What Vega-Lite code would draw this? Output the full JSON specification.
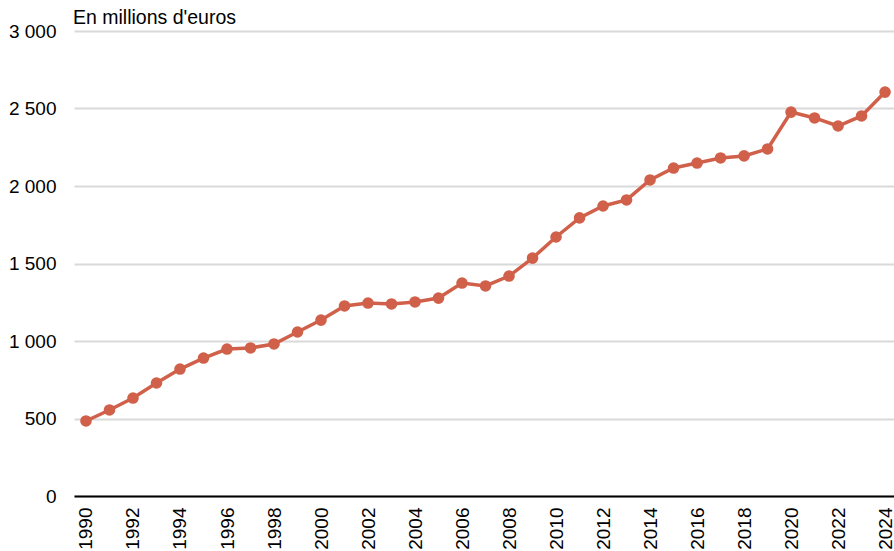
{
  "$schema": "https://vega.github.io/schema/vega-lite/v6.json",
  "width": 820,
  "height": 465,
  "autosize": {"type": "none"},
  "padding": {"left": 74, "top": 31, "right": 0, "bottom": 55},
  "background": "white",
  "title": {"text": "En millions d'euros", "anchor": "start", "frame": "group", "font": "Liberation Sans", "fontSize": 19.5, "fontWeight": "normal", "color": "#000000", "offset": 2, "dx": -1, "dy": 8},
  "config": {"view": {"stroke": null}, "font": "Liberation Sans"},
  "data": {"values": [
    {"year": 1990, "value": 484},
    {"year": 1991, "value": 555},
    {"year": 1992, "value": 632},
    {"year": 1993, "value": 729},
    {"year": 1994, "value": 819},
    {"year": 1995, "value": 890},
    {"year": 1996, "value": 948},
    {"year": 1997, "value": 955},
    {"year": 1998, "value": 981},
    {"year": 1999, "value": 1058},
    {"year": 2000, "value": 1135},
    {"year": 2001, "value": 1226},
    {"year": 2002, "value": 1245},
    {"year": 2003, "value": 1239},
    {"year": 2004, "value": 1252},
    {"year": 2005, "value": 1277},
    {"year": 2006, "value": 1374},
    {"year": 2007, "value": 1355},
    {"year": 2008, "value": 1419},
    {"year": 2009, "value": 1535},
    {"year": 2010, "value": 1671},
    {"year": 2011, "value": 1794},
    {"year": 2012, "value": 1871},
    {"year": 2013, "value": 1910},
    {"year": 2014, "value": 2039},
    {"year": 2015, "value": 2116},
    {"year": 2016, "value": 2148},
    {"year": 2017, "value": 2181},
    {"year": 2018, "value": 2194},
    {"year": 2019, "value": 2239},
    {"year": 2020, "value": 2477},
    {"year": 2021, "value": 2439},
    {"year": 2022, "value": 2387},
    {"year": 2023, "value": 2452},
    {"year": 2024, "value": 2606}
  ]},
  "encoding": {
    "x": {
      "field": "year", "type": "quantitative",
      "scale": {"domain": [1989.49, 2024.38], "nice": false, "zero": false},
      "axis": {
        "title": null, "grid": false, "ticks": false,
        "values": [1990,1992,1994,1996,1998,2000,2002,2004,2006,2008,2010,2012,2014,2016,2018,2020,2022,2024],
        "labelExpr": "'' + datum.value",
        "labelAngle": -90, "labelAlign": "right", "labelBaseline": "middle",
        "labelFont": "Liberation Sans", "labelFontSize": 19, "labelColor": "#000000", "labelPadding": 11,
        "domainColor": "#000000", "domainWidth": 2, "labelFlush": false, "labelOverlap": false
      }
    },
    "y": {
      "field": "value", "type": "quantitative",
      "scale": {"domain": [0, 3000], "nice": false},
      "axis": {
        "title": null, "ticks": false, "domain": false,
        "values": [0, 500, 1000, 1500, 2000, 2500, 3000],
        "labelExpr": "replace(format(datum.value, ','), ',', ' ')",
        "labelFont": "Liberation Sans", "labelFontSize": 19, "labelColor": "#000000", "labelPadding": 18,
        "gridColor": "#d9d9d9", "gridWidth": 2
      }
    }
  },
  "layer": [
    {"mark": {"type": "line", "color": "#d0604a", "strokeWidth": 3.5}},
    {"mark": {"type": "point", "filled": true, "color": "#d0604a", "opacity": 1, "size": 135}}
  ]
}
